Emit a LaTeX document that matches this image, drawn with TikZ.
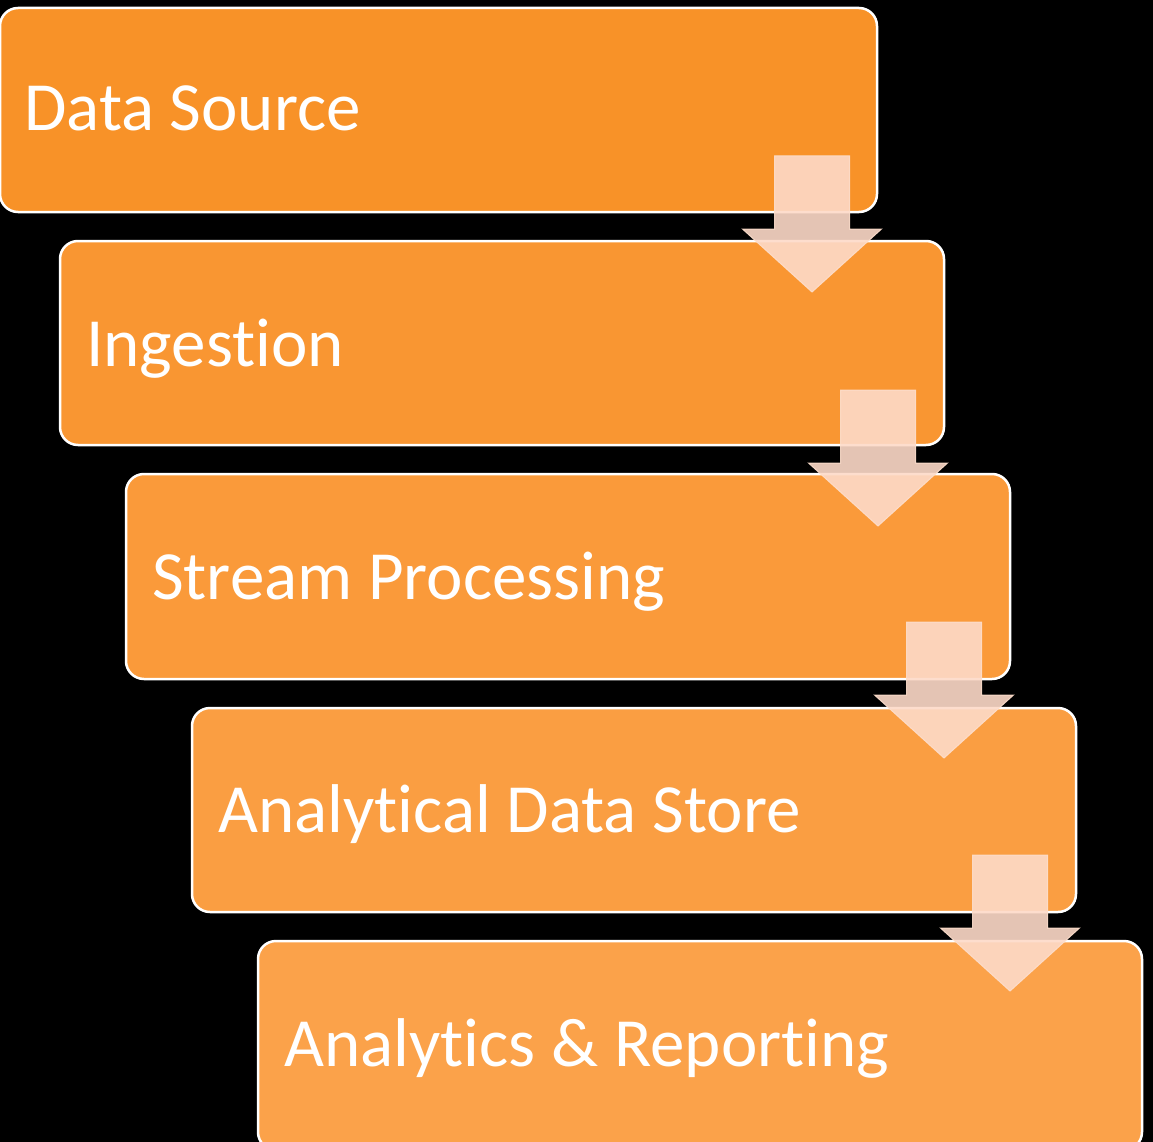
\documentclass[tikz,border=0pt]{standalone}
\usepackage{fontspec}
\setmainfont{Carlito}[Ligatures={NoCommon}]
\definecolor{bgblack}{RGB}{0,0,0}
\definecolor{boxA}{RGB}{248,146,40}
\definecolor{boxB}{RGB}{249,150,50}
\definecolor{boxC}{RGB}{250,154,58}
\definecolor{boxD}{RGB}{250,158,66}
\definecolor{boxE}{RGB}{251,162,74}
\definecolor{arrowfill}{RGB}{253,218,200}
\definecolor{arrowline}{RGB}{253,222,204}
\tikzset{
  stagebox/.style={draw=white, line width=2.5pt, rounded corners=18pt},
  stagelabel/.style={text=white, anchor=base west, inner sep=0pt, font=\fontsize{69}{82}\selectfont},
  arrowstyle/.style={fill=arrowfill, draw=arrowline, line width=1pt, fill opacity=0.9, draw opacity=0.9},
  downarrow/.pic={
    \path[arrowstyle] (-37.5,0) -- (37.5,0) -- (37.5,73) -- (69.5,73) -- (0,136)
      -- (-69.5,73) -- (-37.5,73) -- cycle;
  }
}
\begin{document}
\begin{tikzpicture}[x=1pt,y=-1pt]
\fill[bgblack] (0,0) rectangle (1153,1142);
\useasboundingbox (0,0) rectangle (1153,1142);
\begin{scope}
\clip (0,0) rectangle (1153,1142);
\draw[stagebox, fill=boxA] (0,8) rectangle (877,212);
\draw[stagebox, fill=boxB] (60,241) rectangle (944,445);
\draw[stagebox, fill=boxC] (126,474) rectangle (1010,679);
\draw[stagebox, fill=boxD] (192,708) rectangle (1076,912);
\draw[stagebox, fill=boxE] (258,941) rectangle (1142,1150);
\end{scope}
\node[stagelabel] (t1) at (24,131) {Data Source};
\node[stagelabel] (t2) at (86,366) {Ingestion};
\node[stagelabel] (t3) at (152,599) {Stream Processing};
\node[stagelabel] (t4) at (218,832) {Analytical Data Store};
\node[stagelabel] (t5) at (284,1066) {Analytics \& Reporting};
\pic at (812,156) {downarrow};
\pic at (878,390) {downarrow};
\pic at (944,622) {downarrow};
\pic at (1010,855) {downarrow};
\end{tikzpicture}
\end{document}
